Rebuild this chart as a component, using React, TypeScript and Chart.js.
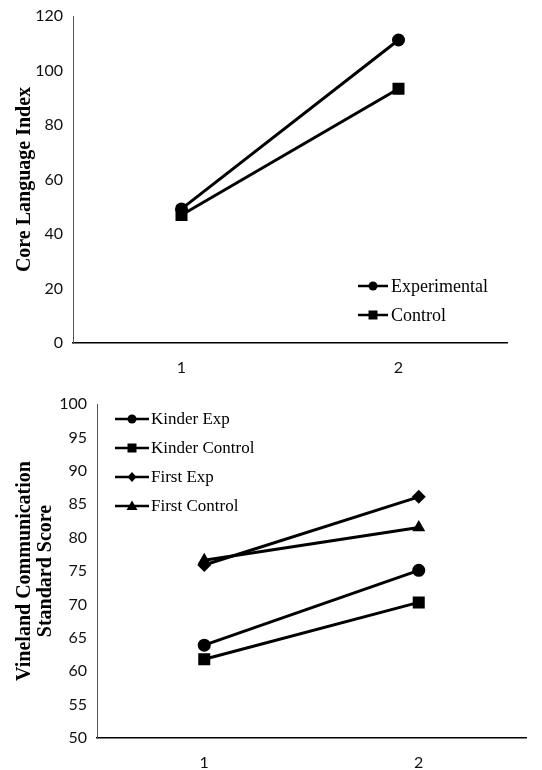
import React, { useEffect, useRef } from 'react';
import { Chart, registerables } from 'chart.js';

Chart.register(...registerables);

// ---- Data: top chart ----
const topCategories = ['1', '2'];
const experimental = [49.2, 111.2];
const control = [47, 93.3];
const topYMin = 0;
const topYMax = 120;
const topYStep = 20;

// ---- Data: bottom chart ----
const bottomCategories = ['1', '2'];
const kinderExp = [63.9, 75.1];
const kinderControl = [61.8, 70.3];
const firstExp = [75.9, 86.1];
const firstControl = [76.6, 81.5];
const bottomYMin = 50;
const bottomYMax = 100;
const bottomYStep = 5;

const TICK_FONT = { family: 'Lato, "Open Sans", sans-serif', size: 16 };
const SERIF = '"Liberation Serif", "Times New Roman", serif';

function drawMarker(ctx: CanvasRenderingContext2D, style: string, x: number, y: number, r: number) {
  ctx.beginPath();
  if (style === 'circle') {
    ctx.arc(x, y, r, 0, Math.PI * 2);
  } else if (style === 'rect') {
    ctx.rect(x - r, y - r, 2 * r, 2 * r);
  } else if (style === 'rectRot') {
    ctx.moveTo(x, y - r * 1.1);
    ctx.lineTo(x + r, y);
    ctx.lineTo(x, y + r * 1.1);
    ctx.lineTo(x - r, y);
    ctx.closePath();
  } else if (style === 'triangle') {
    ctx.moveTo(x, y - r * 1.1);
    ctx.lineTo(x + r * 1.1, y + r * 0.8);
    ctx.lineTo(x - r * 1.1, y + r * 0.8);
    ctx.closePath();
  }
  ctx.fill();
}

const lineLegend = {
  id: 'lineLegend',
  afterDraw(chart: any, _args: any, opts: any) {
    const { ctx } = chart;
    const { x0, x1, textX, y0, dy, font, markerR } = opts;
    chart.data.datasets.forEach((ds: any, i: number) => {
      const y = y0 + i * dy;
      ctx.save();
      ctx.strokeStyle = '#000';
      ctx.fillStyle = '#000';
      ctx.lineWidth = 2.5;
      ctx.beginPath();
      ctx.moveTo(x0, y);
      ctx.lineTo(x1, y);
      ctx.stroke();
      drawMarker(ctx, ds.pointStyle, (x0 + x1) / 2, y, markerR[ds.pointStyle] || 4.5);
      ctx.font = font;
      ctx.textBaseline = 'middle';
      ctx.textAlign = 'left';
      ctx.fillText(ds.label, textX, y + 1);
      ctx.restore();
    });
  },
};

function lineDs(label: string, data: number[], pointStyle: string, radius: number) {
  return {
    label,
    data,
    borderColor: '#000',
    backgroundColor: '#000',
    pointBackgroundColor: '#000',
    pointBorderColor: '#000',
    borderWidth: 3,
    pointStyle,
    pointRadius: radius,
    pointBorderWidth: 0,
    tension: 0,
    fill: false,
  };
}

function makeOptions(cfg: any) {
  return {
    responsive: false,
    animation: false,
    layout: { padding: { left: 0, top: cfg.top, right: cfg.right, bottom: 0 } },
    plugins: {
      legend: { display: false },
      tooltip: { enabled: false },
      title: { display: false },
      lineLegend: cfg.legend,
    },
    scales: {
      x: {
        type: 'category',
        offset: true,
        grid: { display: false },
        border: { display: true, color: '#000', width: 1.5 },
        ticks: { font: TICK_FONT, color: '#111', padding: 7, maxRotation: 0 },
        afterFit: (scale: any) => {
          scale.height = cfg.xHeight;
        },
      },
      y: {
        min: cfg.yMin,
        max: cfg.yMax,
        grid: { display: false },
        border: { display: true, color: '#555', width: 1 },
        ticks: { stepSize: cfg.yStep, font: TICK_FONT, color: '#111', padding: 2 },
        title: {
          display: true,
          text: cfg.title,
          color: '#000',
          font: { family: SERIF, size: 20, weight: 'bold', lineHeight: cfg.titleLH },
          padding: { top: cfg.titlePad, bottom: 0 },
        },
        afterFit: (scale: any) => {
          scale.width = cfg.yWidth;
        },
      },
    },
  };
}

export default function App() {
  const topRef = useRef<HTMLCanvasElement>(null);
  const botRef = useRef<HTMLCanvasElement>(null);

  useEffect(() => {
    document.body.style.margin = '0';
    const top = new Chart(topRef.current as HTMLCanvasElement, {
      type: 'line',
      data: {
        labels: topCategories,
        datasets: [
          lineDs('Experimental', experimental, 'circle', 6.5),
          lineDs('Control', control, 'rect', 8.5),
        ],
      },
      options: makeOptions({
        top: 16,
        right: 35,
        xHeight: 37,
        yWidth: 73,
        yMin: topYMin,
        yMax: topYMax,
        yStep: topYStep,
        title: 'Core Language Index',
        titleLH: 1.2,
        titlePad: 13,
        legend: {
          x0: 358,
          x1: 388,
          textX: 391,
          y0: 286,
          dy: 29,
          font: `18px ${SERIF}`,
          markerR: { circle: 4.5, rect: 4.5 },
        },
      }) as any,
      plugins: [lineLegend as any],
    });
    const bot = new Chart(botRef.current as HTMLCanvasElement, {
      type: 'line',
      data: {
        labels: bottomCategories,
        datasets: [
          lineDs('Kinder Exp', kinderExp, 'circle', 6.5),
          lineDs('Kinder Control', kinderControl, 'rect', 8.5),
          lineDs('First Exp', firstExp, 'rectRot', 7),
          lineDs('First Control', firstControl, 'triangle', 7.5),
        ],
      },
      options: makeOptions({
        top: 24,
        right: 16,
        xHeight: 32,
        yWidth: 97,
        yMin: bottomYMin,
        yMax: bottomYMax,
        yStep: bottomYStep,
        title: ['Vineland Communication', 'Standard Score'],
        titleLH: 1.05,
        titlePad: 14.5,
        legend: {
          x0: 115,
          x1: 149,
          textX: 151,
          y0: 39,
          dy: 29,
          font: `17px ${SERIF}`,
          markerR: { circle: 4.5, rect: 4.5, rectRot: 4.5, triangle: 5 },
        },
      }) as any,
      plugins: [lineLegend as any],
    });
    return () => {
      top.destroy();
      bot.destroy();
    };
  }, []);

  return (
    <div style={{ width: 542, height: 770, background: '#fff' }}>
      <canvas ref={topRef} width={542} height={380} style={{ display: 'block' }} />
      <canvas ref={botRef} width={542} height={390} style={{ display: 'block' }} />
    </div>
  );
}
